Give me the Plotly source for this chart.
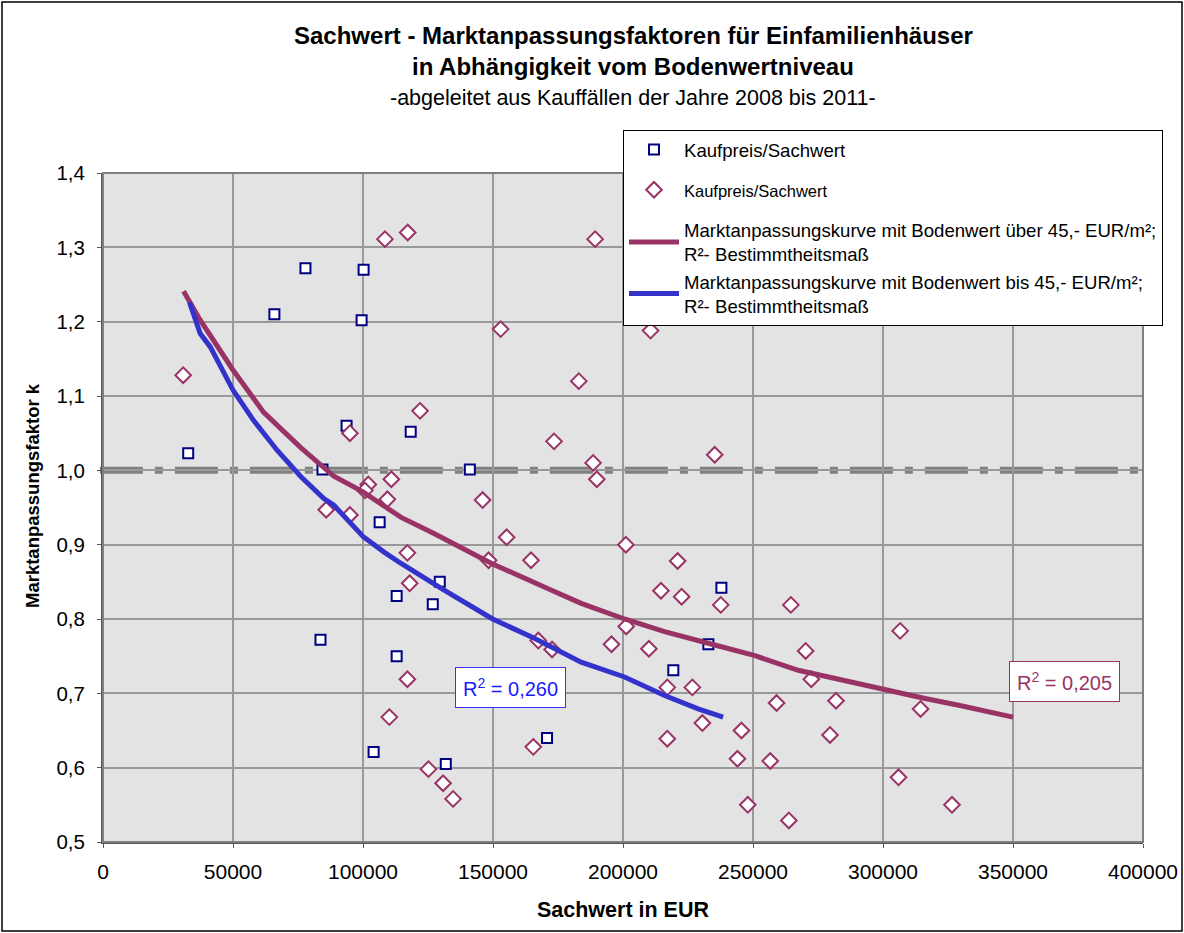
import plotly.graph_objects as go

# Kauffälle: Sachwert (EUR) und Kaufpreis/Sachwert, Bodenwert bis 45,- EUR/m²
sachwert_bis45 = [32770, 65920, 77870, 100230, 99460, 93680, 118350, 84420, 141090,
                  106400, 129530, 112950, 126830, 83650, 112950, 104080, 131840,
                  170780, 237850, 219350, 232840]
faktor_bis45 = [1.023, 1.210, 1.272, 1.270, 1.202, 1.060, 1.052, 1.001, 1.001,
                0.930, 0.850, 0.831, 0.820, 0.772, 0.750, 0.621, 0.605,
                0.640, 0.842, 0.731, 0.766]

# Kauffälle: Bodenwert über 45,- EUR/m²
sachwert_ueber45 = [30840, 108450, 117190, 189280, 152930, 210600, 183000, 121940,
                    94960, 173480, 235270, 188510, 189930, 110900, 102040, 100740,
                    109370, 145990, 85850, 94960, 155240, 201110, 117070, 148300,
                    164610, 221010, 117960, 214600, 222550, 237600, 264570, 201240,
                    306600, 167420, 195570, 172710, 209960, 270240, 117070, 272430,
                    217040, 226680, 259060, 281920, 314450, 110130, 230530, 245560,
                    217040, 279610, 165500, 244020, 256630, 125170, 130800, 305970,
                    134660, 247990, 326530, 263800]
faktor_ueber45 = [1.128, 1.311, 1.320, 1.311, 1.190, 1.188, 1.120, 1.080,
                  1.050, 1.039, 1.021, 1.010, 0.988, 0.988, 0.981, 0.973,
                  0.961, 0.960, 0.947, 0.940, 0.910, 0.900, 0.889, 0.879,
                  0.879, 0.878, 0.848, 0.838, 0.830, 0.819, 0.819, 0.790,
                  0.784, 0.771, 0.766, 0.759, 0.760, 0.757, 0.719, 0.719,
                  0.708, 0.708, 0.687, 0.690, 0.679, 0.668, 0.660, 0.650,
                  0.639, 0.644, 0.628, 0.612, 0.609, 0.598, 0.579, 0.587,
                  0.558, 0.550, 0.550, 0.529]

# Marktanpassungskurven (Stützpunkte)
kurve_ueber45_x = [31000, 37400, 50000, 61800, 75950, 88800, 100000, 114500, 127300,
                   149850, 172300, 183900, 200600, 216000, 235300, 250450, 267400,
                   285400, 300800, 316200, 329100, 339400, 350000]
kurve_ueber45_y = [1.241, 1.202, 1.135, 1.078, 1.031, 0.992, 0.971, 0.937, 0.915,
                   0.874, 0.839, 0.821, 0.800, 0.783, 0.765, 0.751, 0.731,
                   0.717, 0.704, 0.693, 0.684, 0.676, 0.668]
kurve_bis45_x = [33270, 37400, 41250, 50000, 57950, 66960, 75950, 84930, 88800,
                 100000, 108100, 114500, 131200, 149850, 165900, 183900, 200600,
                 216000, 228900, 238500]
kurve_bis45_y = [1.226, 1.184, 1.166, 1.108, 1.067, 1.027, 0.992, 0.962, 0.953,
                 0.911, 0.890, 0.875, 0.839, 0.800, 0.774, 0.742, 0.722,
                 0.697, 0.679, 0.668]

r2_bis45 = "0,260"
r2_ueber45 = "0,205"
referenz_k = 1.0

x_ticks = [0, 50000, 100000, 150000, 200000, 250000, 300000, 350000, 400000]
y_ticks = [0.5, 0.6, 0.7, 0.8, 0.9, 1.0, 1.1, 1.2, 1.3, 1.4]

FONT = "Liberation Sans, Arial, sans-serif"
MAROON = "#993366"
NAVY = "#000080"
BLUE = "#3333CC"

W, H = 1184, 933
ML, MR, MT, MB = 103, 41, 173, 91


def px_x(p):
    return (p - ML) / (W - ML - MR)


def px_y(p):
    return 1 - (p - MT) / (H - MT - MB)


fig = go.Figure()

fig.add_trace(go.Scatter(
    x=sachwert_bis45, y=faktor_bis45, mode="markers", name="Kaufpreis/Sachwert",
    legendgroup="a",
    marker=dict(symbol="square", size=10, color="white",
                line=dict(color=NAVY, width=2)),
))
fig.add_trace(go.Scatter(
    x=sachwert_ueber45, y=faktor_ueber45, mode="markers",
    name="<span style='font-size:16.5px'>Kaufpreis/Sachwert</span>",
    legendgroup="b",
    marker=dict(symbol="diamond", size=12, color="white",
                line=dict(color=MAROON, width=2)),
))
fig.add_trace(go.Scatter(
    x=kurve_ueber45_x, y=kurve_ueber45_y, mode="lines", legendgroup="c",
    name="Marktanpassungskurve mit Bodenwert über 45,- EUR/m²;<br>R²- Bestimmtheitsmaß",
    line=dict(color=MAROON, width=5),
))
fig.add_trace(go.Scatter(
    x=kurve_bis45_x, y=kurve_bis45_y, mode="lines", legendgroup="c",
    name="Marktanpassungskurve mit Bodenwert bis 45,- EUR/m²;<br>R²- Bestimmtheitsmaß",
    line=dict(color=BLUE, width=5),
))

# Bezugslinie k = 1,0
fig.add_shape(type="line", xref="paper", x0=-0.003, x1=1.003, yref="y",
              y0=referenz_k, y1=referenz_k, layer="between",
              line=dict(color="#808080", width=7, dash="43px,12px,8px,12px"))

# Bestimmtheitsmaße
fig.add_annotation(x=156900, y=0.708, text=f"R<sup>2</sup> = {r2_bis45}",
                   showarrow=False, font=dict(family=FONT, size=20, color="#1a1aff"),
                   bgcolor="white", bordercolor="#3333ff", borderwidth=1, borderpad=7)
fig.add_annotation(x=369700, y=0.716, text=f"R<sup>2</sup> = {r2_ueber45}",
                   showarrow=False, font=dict(family=FONT, size=20, color=MAROON),
                   bgcolor="white", bordercolor=MAROON, borderwidth=1, borderpad=7)

# Titel
title_lines = [
    ("<b>Sachwert - Marktanpassungsfaktoren für Einfamilienhäuser</b>", 35, 24),
    ("<b>in Abhängigkeit vom Bodenwertniveau</b>", 66, 24),
    ("-abgeleitet aus Kauffällen der Jahre 2008 bis 2011-", 98, 21.5),
]
for text, ypix, size in title_lines:
    fig.add_annotation(xref="paper", yref="paper", x=px_x(633), y=px_y(ypix),
                       xanchor="center", yanchor="middle", text=text,
                       showarrow=False, font=dict(family=FONT, size=size, color="black"))

# Achsentitel der y-Achse
fig.add_annotation(xref="paper", yref="paper", x=px_x(32), y=px_y(496),
                   xanchor="center", yanchor="middle", textangle=-90,
                   text="<b>Marktanpassungsfaktor k</b>", showarrow=False,
                   font=dict(family=FONT, size=18.5, color="black"))

# Rahmen um die gesamte Grafik
fig.add_shape(type="rect", xref="paper", yref="paper",
              x0=px_x(2), x1=px_x(W - 2), y0=px_y(H - 2), y1=px_y(2),
              line=dict(color="black", width=1.5), layer="below")

fig.update_layout(
    width=W, height=H,
    margin=dict(l=ML, r=MR, t=MT, b=MB, autoexpand=False),
    paper_bgcolor="white", plot_bgcolor="#e3e3e3",
    separators=",.",
    font=dict(family=FONT, size=20, color="black"),
    showlegend=True,
    legend=dict(
        x=px_x(623), y=px_y(130), xanchor="left", yanchor="top",
        bgcolor="white", bordercolor="black", borderwidth=1,
        font=dict(family=FONT, size=18.6, color="black"),
        traceorder="grouped", tracegroupgap=13, itemwidth=50,
    ),
    xaxis=dict(
        range=[0, 400000], tickvals=x_ticks, tickformat="d", automargin=False,
        showgrid=True, gridcolor="#999999", gridwidth=2,
        showline=True, linecolor="#555555", linewidth=2, mirror=False,
        ticks="outside", ticklen=4, tickcolor="#555555", ticklabelstandoff=6,
        zeroline=False, tickfont=dict(size=21),
        title=dict(text="<b>Sachwert in EUR</b>", font=dict(family=FONT, size=21.5),
                   standoff=20),
    ),
    yaxis=dict(
        range=[0.5, 1.4], tickvals=y_ticks, tickformat=".1f", automargin=False,
        showgrid=True, gridcolor="#999999", gridwidth=2,
        showline=True, linecolor="#555555", linewidth=2,
        ticks="outside", ticklen=4, tickcolor="#555555", ticklabelstandoff=8,
        zeroline=False, tickfont=dict(size=20.5),
    ),
)

# oberer und rechter Rand des Diagrammbereichs
fig.add_shape(type="rect", xref="paper", yref="paper", x0=0, x1=1, y0=0, y1=1,
              line=dict(color="#808080", width=2), layer="above")

fig.write_html("out.html")
